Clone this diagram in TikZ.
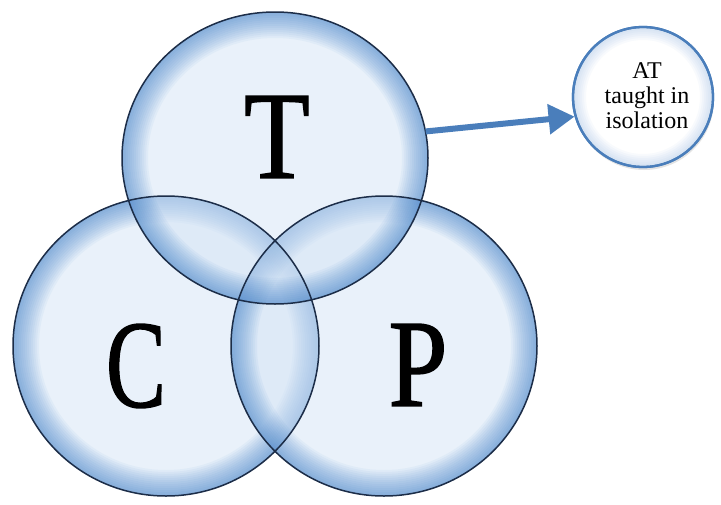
\documentclass[tikz,border=0pt]{standalone}
\usepackage{fontspec}
\setmainfont{Liberation Serif}
\newfontfamily\letterfont[FakeBold=1.2]{Liberation Serif}
\usetikzlibrary{arrows.meta,shapes.geometric,shadows}
\definecolor{vin}{RGB}{211,227,245}
\definecolor{vout}{RGB}{45,115,195}
\definecolor{vline}{RGB}{28,45,72}
\definecolor{arrowblue}{RGB}{74,126,187}
\tikzset{
  vennnode/.style={ellipse, inner sep=0pt},
  vennline/.style={draw=vline, line width=1.5pt},
  venninterior/.style={fill=vin, fill opacity=0.5},
  vennrim/.style={draw=vout, draw opacity=0.05},
  bigletter/.style={inner sep=0pt, font=\letterfont\fontsize{125}{125}\selectfont},
  smallcirc/.style={circle, minimum size=140pt, inner sep=0pt, draw=arrowblue, line width=2.3pt,
    fill=white, align=center, font=\fontsize{24}{25}\selectfont,
    drop shadow={opacity=0.22, shadow xshift=1pt, shadow yshift=-3pt}},
  smallrim/.style={draw=vout, draw opacity=0.03},
  linkarrow/.style={draw=arrowblue, line width=6pt, -{Triangle[length=26pt, width=29pt]}}
}
\newcommand{\vennrimfill}[3]{%
  \begin{scope}
    \clip (#1) ellipse [x radius=#2, y radius=#3];
    \fill[venninterior] (#1) ellipse [x radius=#2, y radius=#3];
    \foreach \w in {2,4,...,26}
      \draw[vennrim, line width=2*\w pt] (#1) ellipse [x radius=#2, y radius=#3];
  \end{scope}}
\begin{document}
\begin{tikzpicture}[x=1pt,y=-1pt]
\useasboundingbox (0,0) rectangle (721,504);
% circle placeholders (named)
\node[vennnode, minimum width=306pt, minimum height=300pt] (C) at (166,346) {};
\node[vennnode, minimum width=306pt, minimum height=300pt] (P) at (384,346) {};
\node[vennnode, minimum width=306pt, minimum height=292pt] (T) at (275,158) {};
% shaded fills
\vennrimfill{C.center}{153pt}{150pt}
\vennrimfill{P.center}{153pt}{150pt}
\vennrimfill{T.center}{153pt}{146pt}
% outlines
\draw[vennline] (C.center) ellipse [x radius=153pt, y radius=150pt];
\draw[vennline] (P.center) ellipse [x radius=153pt, y radius=150pt];
\draw[vennline] (T.center) ellipse [x radius=153pt, y radius=146pt];
% letters
\node[bigletter] (lT) at (277,137) {\scalebox{0.86}[1]{T}};
\node[bigletter] (lC) at (136,366) {\scalebox{0.72}[1]{C}};
\node[bigletter] (lP) at (418,365) {\scalebox{0.85}[1]{P}};
% side circle
\node[smallcirc] (AT) at (643,97) {};
\begin{scope}
  \clip (AT.center) circle [radius=69pt];
  \foreach \w in {2,4,...,12}
    \draw[smallrim, line width=2*\w pt] (AT.center) circle [radius=69pt];
\end{scope}
\draw[arrowblue, line width=2.3pt] (AT.center) circle [radius=70pt];
\node[align=center, inner sep=0pt, font=\fontsize{24}{25}\selectfont] (ATtext) at (647,96) {AT\\taught in\\isolation};
\draw[linkarrow] (T.10) -- (AT.196);
\end{tikzpicture}
\end{document}
